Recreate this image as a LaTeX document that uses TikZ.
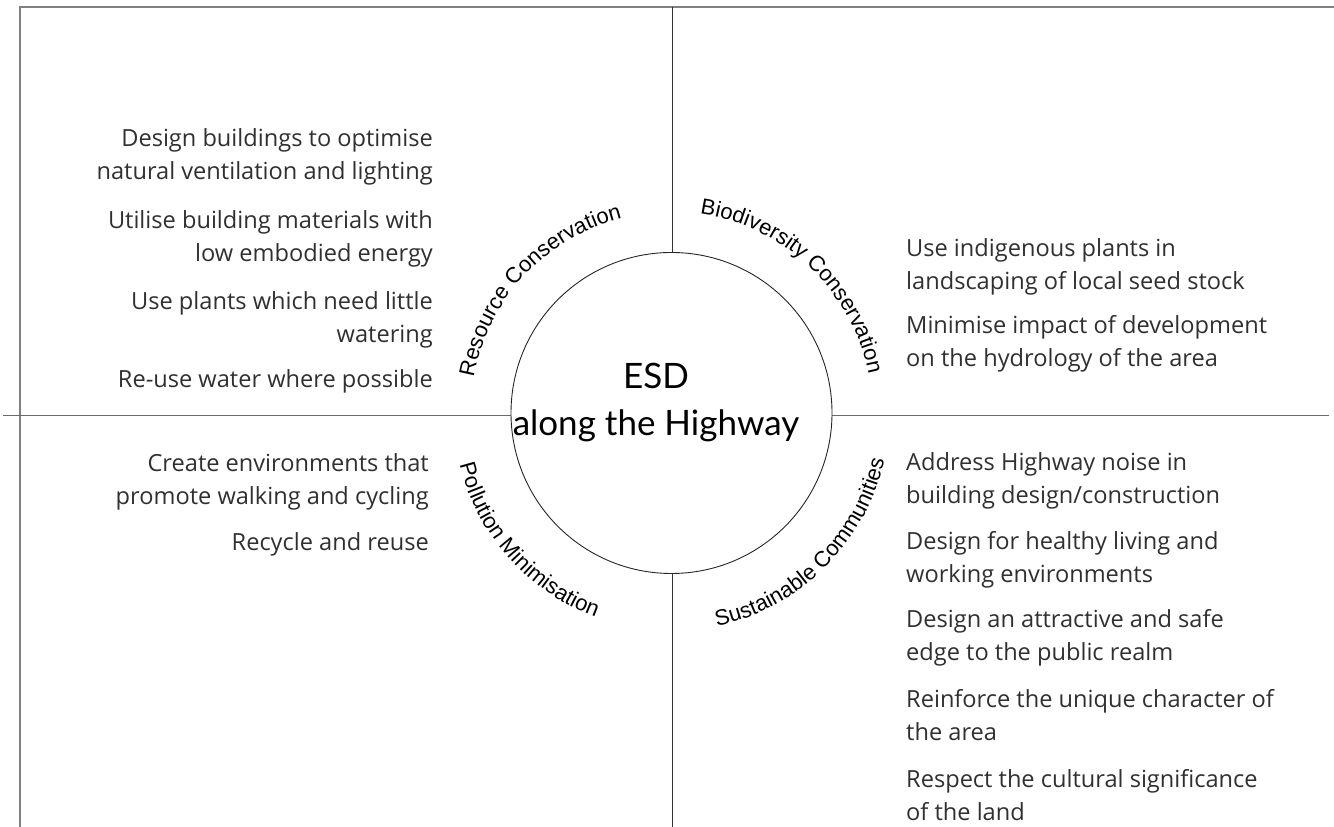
\documentclass[tikz,border=0pt]{standalone}
\usepackage{fontspec}
\usetikzlibrary{calc,decorations.text}
\newfontfamily\itemfont{Open Sans}
\newfontfamily\hubfont{Lato}
\newfontfamily\arcfont{Liberation Sans}
\definecolor{framegray}{HTML}{808080}
\definecolor{axisgray}{HTML}{6A6A6A}
\definecolor{ink}{HTML}{303030}
% multi-line blocks whose baseline is that of their first line
\newcommand\flushrightlines[1]{\begin{tabular}[t]{@{}r@{}}#1\end{tabular}}
\newcommand\flushleftlines[1]{\begin{tabular}[t]{@{}l@{}}#1\end{tabular}}
\newcommand\centredlines[1]{\begin{tabular}[t]{@{}c@{}}#1\end{tabular}}
\tikzset{
  frameline/.style={draw=framegray, line width=2pt},
  axisline/.style={draw=axisgray, line width=1.4pt},
  spokeline/.style={draw=black!80, line width=0.9pt},
  hubcircle/.style={circle, draw=black!85, line width=0.9pt, fill=white,
    minimum size=321pt, inner sep=0pt},
  hubtitle/.style={inner sep=0pt, anchor=base, text=black,
    font=\hubfont\fontsize{35}{47}\selectfont},
  ideaL/.style={inner sep=0pt, anchor=base east, text=ink,
    font=\itemfont\fontsize{23.6}{32.5}\selectfont},
  ideaR/.style={inner sep=0pt, anchor=base west, text=ink,
    font=\itemfont\fontsize{23.6}{32.5}\selectfont},
  arclabel/.style={decorate, decoration={text along path,
    text={|\arcfont\fontsize{22}{24}\selectfont|#1}, text align=center}}
}
\begin{document}
\begin{tikzpicture}[x=1pt,y=1pt]
\useasboundingbox (0,0) rectangle (1334,827);

% outer frame: top and left edges
\coordinate (frameTR) at (1334,820.3);
\coordinate (frameTL) at (20,820.3);
\coordinate (frameBL) at (20,0);
\draw[frameline] (frameTR) -- (frameTL) -- (frameBL);

% quadrant axes
\coordinate (axisW) at (3,411.5);
\coordinate (axisE) at (1329,411.5);
\coordinate (axisN) at (672,820.3);
\coordinate (axisS) at (672,0);
\draw[axisline] (axisW) -- (axisE);
\draw[spokeline] (axisN) -- (axisS);

% central circle
\node[hubcircle] (hub) at (671.5,414) {};
\node[hubtitle] (title) at (656,438) {\centredlines{ESD\\along the Highway}};

% curved quadrant headings
\path[arclabel={Resource Conservation}]
  ($(hub.center)+(187:201)$) arc[start angle=187, end angle=87, radius=201];
\path[arclabel={Biodiversity Conservation}]
  ($(hub.center)+(96.5:201)$) arc[start angle=96.5, end angle=-3.5, radius=201];
\path[arclabel={Pollution Minimisation}]
  ($(hub.center)+(171.7:218)$) arc[start angle=171.7, end angle=271.7, radius=218];
\path[arclabel={Sustainable Communities}]
  ($(hub.center)+(264.8:218)$) arc[start angle=264.8, end angle=364.8, radius=218];

% resource conservation
\node[ideaL] (rc1) at (433,680) {\flushrightlines{Design buildings to optimise\\natural ventilation and lighting}};
\node[ideaL] (rc2) at (433,598) {\flushrightlines{Utilise building materials with\\low embodied energy}};
\node[ideaL] (rc3) at (433,517) {\flushrightlines{Use plants which need little\\watering}};
\node[ideaL] (rc4) at (433,439) {\flushrightlines{Re-use water where possible}};

% biodiversity conservation
\node[ideaR] (bc1) at (906,570) {\flushleftlines{Use indigenous plants in\\landscaping of local seed stock}};
\node[ideaR] (bc2) at (906,493) {\flushleftlines{Minimise impact of development\\on the hydrology of the area}};

% pollution minimisation
\node[ideaL] (pm1) at (429,355) {\flushrightlines{Create environments that\\promote walking and cycling}};
\node[ideaL] (pm2) at (429,276) {\flushrightlines{Recycle and reuse}};

% sustainable communities
\node[ideaR] (sc1) at (906,356) {\flushleftlines{Address Highway noise in\\building design/construction}};
\node[ideaR] (sc2) at (906,277) {\flushleftlines{Design for healthy living and\\working environments}};
\node[ideaR] (sc3) at (906,199) {\flushleftlines{Design an attractive and safe\\edge to the public realm}};
\node[ideaR] (sc4) at (906,119) {\flushleftlines{Reinforce the unique character of\\the area}};
\node[ideaR] (sc5) at (906,39) {\flushleftlines{Respect the cultural significance\\of the land}};
\end{tikzpicture}
\end{document}
